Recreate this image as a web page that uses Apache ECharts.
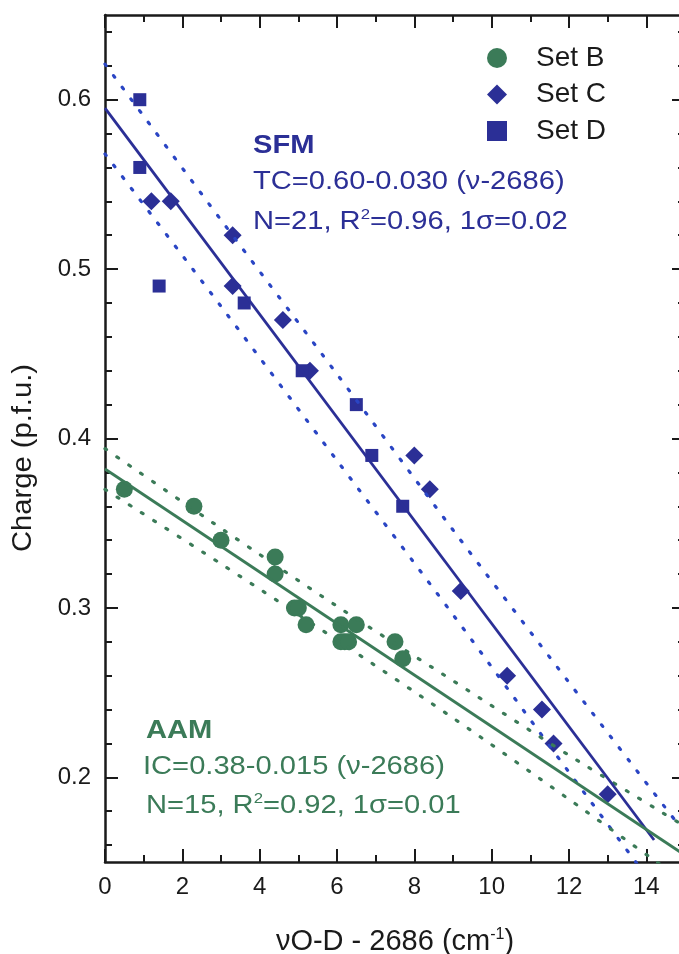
<!DOCTYPE html>
<html>
<head>
<meta charset="utf-8">
<title>Charge vs. O-D stretching frequency</title>
<script src="https://cdn.jsdelivr.net/npm/echarts@6/dist/echarts.min.js"></script>
<style>
  html, body { margin: 0; padding: 0; background: #ffffff; }
  #chart { width: 679px; height: 954px; }
</style>
</head>
<body>
<div id="chart"></div>
<script>
// Measured points: [νO-D - 2686 (cm-1), charge (p.f.u.)]
const setB = [
  [0.5, 0.37], [2.3, 0.36], [3.0, 0.34], [4.4, 0.33], [4.4, 0.32],
  [4.9, 0.30], [5.0, 0.30], [5.2, 0.29], [6.1, 0.29], [6.5, 0.29],
  [6.1, 0.28], [6.2, 0.28], [6.3, 0.28], [7.5, 0.28], [7.7, 0.27]
];
const setC = [
  [1.2, 0.54], [1.7, 0.54], [3.3, 0.52], [3.3, 0.49], [4.6, 0.47],
  [5.3, 0.44], [8.0, 0.39], [8.4, 0.37], [9.2, 0.31], [10.4, 0.26],
  [11.3, 0.24], [11.6, 0.22], [13.0, 0.19]
];
const setD = [
  [0.9, 0.60], [0.9, 0.56], [1.4, 0.49], [3.6, 0.48], [5.1, 0.44],
  [6.5, 0.42], [6.9, 0.39], [7.7, 0.36]
];

// Linear fits (end points) and their dotted confidence bands
const sfmFit = [[0, 0.595], [14.2, 0.163]];
const sfmUpper = [[0, 0.621], [3, 0.529], [6, 0.438], [9, 0.346], [12, 0.256], [15, 0.167]];
const sfmLower = [[0, 0.568], [3, 0.478], [6, 0.387], [9, 0.296], [12, 0.203], [15, 0.111]];
const aamFit = [[0, 0.382], [15, 0.154]];
const aamUpper = [[0, 0.394], [3, 0.347], [6, 0.301], [9, 0.257], [12, 0.213], [15, 0.171]];
const aamLower = [[0, 0.370], [3, 0.326], [6, 0.281], [9, 0.235], [12, 0.187], [15, 0.138]];

// Tick positions
const xMajorTicks = [0, 2, 4, 6, 8, 10, 12, 14];
const xMinorTicks = [1, 3, 5, 7, 9, 11, 13];
const yMajorTicks = [0.2, 0.3, 0.4, 0.5, 0.6];
const yMinorTicks = [0.16, 0.18, 0.22, 0.24, 0.26, 0.28, 0.32, 0.34, 0.36, 0.38,
                     0.42, 0.44, 0.46, 0.48, 0.52, 0.54, 0.56, 0.58, 0.62, 0.64];

const FONT = '"Liberation Sans", Arial, Helvetica, sans-serif';
const INK = '#1a1a1a';
const BLUE = '#2b2f96';
const BLUE_DOT = '#2a45c4';
const GREEN = '#3b7b58';
const WIDE = 1.12;   // horizontal stretch of the annotation lettering

const X_MIN = 0, X_MAX = 15, Y_MIN = 0.15, Y_MAX = 0.65;

function xAxisDef(position, ticks, major) {
  return {
    type: 'value', min: X_MIN, max: X_MAX, position: position,
    axisLine: { show: major, onZero: false, lineStyle: { color: INK, width: 2.5 } },
    axisTick: { show: true, inside: true, length: major ? 13 : 7, customValues: ticks,
                lineStyle: { color: INK, width: 2 } },
    axisLabel: { show: false },
    splitLine: { show: false }
  };
}
function yAxisDef(position, ticks, major) {
  return {
    type: 'value', min: Y_MIN, max: Y_MAX, position: position,
    axisLine: { show: major, onZero: false, lineStyle: { color: INK, width: 2.5 } },
    axisTick: { show: true, inside: true, length: major ? 13 : 7, customValues: ticks,
                lineStyle: { color: INK, width: 2 } },
    axisLabel: { show: false },
    splitLine: { show: false }
  };
}

const xBottom = xAxisDef('bottom', xMajorTicks, true);
xBottom.axisLabel = {
  show: true, customValues: xMajorTicks, margin: 13,
  color: INK, fontFamily: FONT, fontSize: 24
};
xBottom.name = '{t|νO-D - 2686 (cm}{s|-1}{t|)}';
xBottom.nameLocation = 'middle';
xBottom.nameGap = 65;
xBottom.nameTextStyle = {
  rich: {
    t: { fontFamily: FONT, fontSize: 29, color: INK },
    s: { fontFamily: FONT, fontSize: 16, color: INK, verticalAlign: 'top' }
  }
};

const yLeft = yAxisDef('left', yMajorTicks, true);
yLeft.axisLabel = {
  show: true, customValues: yMajorTicks, margin: 14,
  color: INK, fontFamily: FONT, fontSize: 24,
  formatter: v => v.toFixed(1)
};

function note(x, y, text, color, bold) {
  return {
    type: 'text', x: x, y: y, scaleX: WIDE,
    style: { text: text, fontFamily: FONT, fontSize: 26, fontWeight: bold ? 'bold' : 'normal',
             fill: color, align: 'left', verticalAlign: 'middle' }
  };
}
function statsNote(x, y, before, after, color) {
  return {
    type: 'text', x: x, y: y, scaleX: WIDE,
    style: {
      text: '{t|' + before + '}{s|2}{t|' + after + '}',
      align: 'left', verticalAlign: 'middle',
      rich: {
        t: { fontFamily: FONT, fontSize: 26, fill: color, lineHeight: 30 },
        s: { fontFamily: FONT, fontSize: 15, fill: color, verticalAlign: 'top', lineHeight: 30 }
      }
    }
  };
}

const chart = echarts.init(document.getElementById('chart'), null, { renderer: 'canvas' });

chart.setOption({
  backgroundColor: '#ffffff',
  animation: false,
  grid: {
    left: 105, top: 15, width: 580, height: 847,
    containLabel: false, outerBoundsMode: 'none'
  },
  xAxis: [
    xBottom,
    xAxisDef('bottom', xMinorTicks, false),
    xAxisDef('top', xMajorTicks, true),
    xAxisDef('top', xMinorTicks, false)
  ],
  yAxis: [
    yLeft,
    yAxisDef('left', yMinorTicks, false),
    yAxisDef('right', yMajorTicks, true),
    yAxisDef('right', yMinorTicks, false)
  ],
  legend: {
    orient: 'vertical',
    left: 482, top: 38,
    itemWidth: 20, itemHeight: 20, itemGap: 6.5,
    data: ['Set B', 'Set C', 'Set D'],
    textStyle: { fontFamily: FONT, fontSize: 28, color: INK, lineHeight: 30, padding: [0, 0, 0, 24] }
  },
  series: [
    {
      name: 'SFM band upper', type: 'line', data: sfmUpper, smooth: 0.3,
      symbol: 'none', silent: true, clip: true,
      lineStyle: { color: BLUE_DOT, width: 3.2, type: [2, 12.5], cap: 'round' }
    },
    {
      name: 'SFM band lower', type: 'line', data: sfmLower, smooth: 0.3,
      symbol: 'none', silent: true, clip: true,
      lineStyle: { color: BLUE_DOT, width: 3.2, type: [2, 12.5], cap: 'round' }
    },
    {
      name: 'AAM band upper', type: 'line', data: aamUpper, smooth: 0.3,
      symbol: 'none', silent: true, clip: true,
      lineStyle: { color: GREEN, width: 3.2, type: [2, 12.5], cap: 'round' }
    },
    {
      name: 'AAM band lower', type: 'line', data: aamLower, smooth: 0.3,
      symbol: 'none', silent: true, clip: true,
      lineStyle: { color: GREEN, width: 3.2, type: [2, 12.5], cap: 'round' }
    },
    {
      name: 'Set B', type: 'scatter', data: setB,
      symbol: 'circle', symbolSize: 17,
      itemStyle: { color: GREEN, opacity: 1 }
    },
    {
      name: 'Set C', type: 'scatter', data: setC,
      symbol: 'diamond', symbolSize: 18,
      itemStyle: { color: BLUE, opacity: 1 }
    },
    {
      name: 'Set D', type: 'scatter', data: setD,
      symbol: 'rect', symbolSize: 13,
      itemStyle: { color: BLUE, opacity: 1 }
    },
    {
      name: 'SFM fit', type: 'line', data: sfmFit,
      symbol: 'none', silent: true, clip: true,
      lineStyle: { color: BLUE, width: 2.8 }
    },
    {
      name: 'AAM fit', type: 'line', data: aamFit,
      symbol: 'none', silent: true, clip: true,
      lineStyle: { color: GREEN, width: 2.8 }
    }
  ],
  graphic: [
    {
      type: 'text', x: 24, y: 458, rotation: Math.PI / 2, scaleX: 1.08,
      style: { text: 'Charge (p.f.u.)', fontFamily: FONT, fontSize: 27, fill: INK,
               align: 'center', verticalAlign: 'middle' }
    },
    note(253, 146, 'SFM', BLUE, true),
    note(253, 182, 'TC=0.60-0.030 (ν-2686)', BLUE, false),
    statsNote(253, 222, 'N=21, R', '=0.96, 1σ=0.02', BLUE),
    note(146, 731, 'AAM', GREEN, true),
    note(143, 767, 'IC=0.38-0.015 (ν-2686)', GREEN, false),
    statsNote(146, 806, 'N=15, R', '=0.92, 1σ=0.01', GREEN)
  ]
});
</script>
</body>
</html>
